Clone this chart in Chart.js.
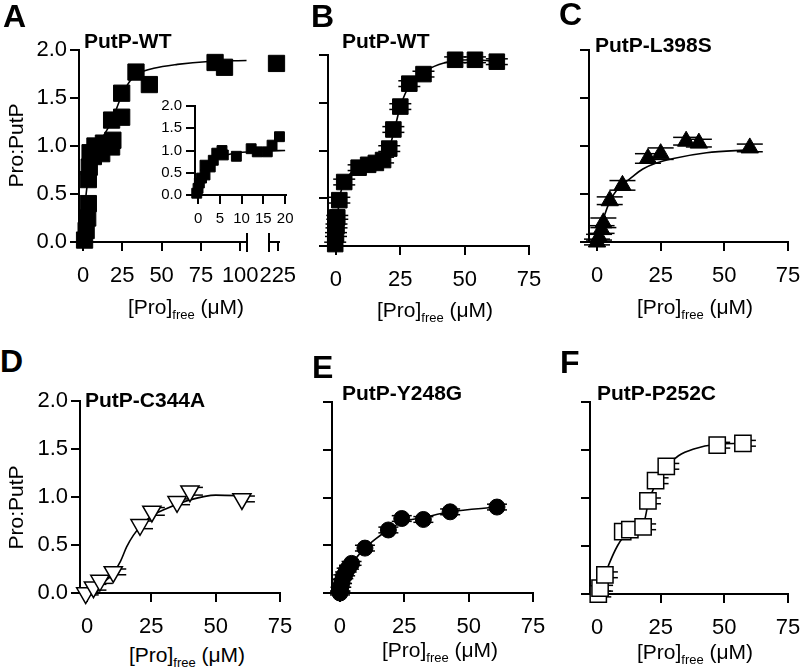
<!DOCTYPE html>
<html>
<head>
<meta charset="utf-8">
<script src="https://cdn.jsdelivr.net/npm/chart.js@4.4.0/dist/chart.umd.min.js"></script>
<style>
  body { margin: 0; background: #fff; }
  #fig { position: relative; width: 800px; height: 669px; overflow: hidden; background: #fff;
         font-family: "Liberation Sans", Arial, Helvetica, sans-serif; color: #000; }
  #fig canvas { position: absolute; }
  .lbl { position: absolute; line-height: 1; white-space: nowrap; z-index: 2; }
  .letter { font-weight: bold; font-size: 32px; }
  .ttl { font-weight: bold; font-size: 21px; }
  .xt { font-size: 21px; width: 200px; text-align: center; }
  .xt span { position: relative; top: 5px; font-size: 13px; }
  .yt { font-size: 21px; width: 120px; text-align: center; transform: rotate(-90deg); }
</style>
</head>
<body>
<div id="fig">
  <div class="lbl letter" style="left:3px;top:0px">A</div>
  <div class="lbl letter" style="left:311px;top:0px">B</div>
  <div class="lbl letter" style="left:559px;top:-2px">C</div>
  <div class="lbl letter" style="left:0px;top:345px">D</div>
  <div class="lbl letter" style="left:312px;top:351px">E</div>
  <div class="lbl letter" style="left:560px;top:346px">F</div>

  <div class="lbl ttl" style="left:84px;top:30px">PutP-WT</div>
  <div class="lbl ttl" style="left:342px;top:30px">PutP-WT</div>
  <div class="lbl ttl" style="left:595px;top:34px">PutP-L398S</div>
  <div class="lbl ttl" style="left:85px;top:389px">PutP-C344A</div>
  <div class="lbl ttl" style="left:342px;top:382px">PutP-Y248G</div>
  <div class="lbl ttl" style="left:597px;top:382px">PutP-P252C</div>

  <div class="lbl xt" style="left:86px;top:296px">[Pro]<span>free</span> (&mu;M)</div>
  <div class="lbl xt" style="left:335px;top:299px">[Pro]<span>free</span> (&mu;M)</div>
  <div class="lbl xt" style="left:595px;top:296px">[Pro]<span>free</span> (&mu;M)</div>
  <div class="lbl xt" style="left:87px;top:644px">[Pro]<span>free</span> (&mu;M)</div>
  <div class="lbl xt" style="left:340px;top:639px">[Pro]<span>free</span> (&mu;M)</div>
  <div class="lbl xt" style="left:595px;top:641px">[Pro]<span>free</span> (&mu;M)</div>

  <div class="lbl yt" style="left:-45px;top:135px">Pro:PutP</div>
  <div class="lbl yt" style="left:-45px;top:497px">Pro:PutP</div>
</div>

<script>
// 刻度
const xTicks = [0, 25, 50, 75];
const xTicksA = [0, 25, 50, 75, 100];
const xTicksA2 = [225];
const xTicksInset = [0, 5, 10, 15, 20];
const yTicks = [0, 0.5, 1, 1.5, 2];

// A: PutP-WT (主图 + 断轴后的 225 点)
const aX = [1, 2, 3, 3.4, 3.4, 4, 4.5, 6.6, 7.6, 11.9, 13, 18.2, 19, 18.2, 24.6, 24.6, 33.7, 42.2, 84, 90];
const aY = [0.02, 0.12, 0.25, 0.4, 0.65, 0.78, 0.93, 0.89, 1.0, 0.92, 1.03, 0.99, 1.06, 1.27, 1.3, 1.55, 1.77, 1.64, 1.87, 1.82];
const aFitX = [0, 1, 2, 4, 7, 12, 18, 24, 30, 36, 45, 60, 80, 104];
const aFitY = [0, 0.3, 0.5, 0.75, 0.95, 1.08, 1.25, 1.5, 1.68, 1.76, 1.81, 1.85, 1.88, 1.89];
const a2X = [224];
const a2Y = [1.86];

// A 插图
const insX = [-0.3, 0, 0.3, 0.8, 1.6, 1.6, 2.8, 3.5, 4.3, 5.5, 5.8, 8.8, 12.2, 13.6, 15.9, 17, 18.7];
const insY = [0.04, 0.15, 0.27, 0.38, 0.45, 0.67, 0.63, 0.78, 0.94, 1.0, 0.9, 0.87, 1.04, 0.97, 0.97, 1.12, 1.31];
const insFitX = [0, 1, 2, 3, 5, 8, 12, 16, 20];
const insFitY = [0, 0.32, 0.55, 0.7, 0.85, 0.93, 0.97, 0.99, 1.0];

// B: PutP-WT
const bX = [-0.3, 0, 0.2, 0.5, 1.3, 3.2, 8.8, 12.5, 15.5, 18.3, 20.7, 22.3, 25, 28.5, 34, 46.3, 54, 62.5];
const bY = [0.02, 0.12, 0.21, 0.3, 0.48, 0.67, 0.82, 0.85, 0.87, 0.9, 1.02, 1.22, 1.46, 1.7, 1.8, 1.95, 1.95, 1.93];
const bErr = [0.02, 0.02, 0.02, 0.02, 0.03, 0.03, 0.03, 0.03, 0.03, 0.03, 0.03, 0.03, 0.03, 0.03, 0.03, 0.03, 0.03, 0.03];
const bFitX = [0, 1, 3, 6, 10, 15, 19, 21, 23, 25, 28.5, 34, 40, 46, 54, 63];
const bFitY = [0, 0.42, 0.65, 0.77, 0.83, 0.87, 0.92, 1.05, 1.25, 1.46, 1.68, 1.82, 1.9, 1.94, 1.95, 1.93];

// C: PutP-L398S
const cX = [0, 0.8, 1.8, 2.5, 5, 10, 20, 25, 35, 40, 60];
const cY = [0.0, 0.05, 0.13, 0.2, 0.43, 0.59, 0.87, 0.92, 1.05, 1.03, 0.98];
const cErr = [0.03, 0.03, 0.04, 0.05, 0.04, 0.05, 0.05, 0.06, 0.04, 0.04, 0.04];
const cFitX = [0, 2.5, 5, 8, 13, 18, 23, 30, 43, 60];
const cFitY = [0, 0.24, 0.42, 0.55, 0.66, 0.76, 0.82, 0.87, 0.93, 0.96];

// D: PutP-C344A
const dX = [-0.5, 2.5, 5, 10.2, 20.6, 25.2, 35, 40, 60.2];
const dY = [0.0, 0.06, 0.13, 0.22, 0.71, 0.85, 0.95, 1.06, 0.98];
const dErr = [0.02, 0.03, 0.03, 0.03, 0.04, 0.04, 0.03, 0.04, 0.03];
const dFitX = [0, 3, 6, 10, 13, 15.4, 18, 21, 25, 31, 40, 50, 63];
const dFitY = [0, 0.04, 0.1, 0.2, 0.33, 0.48, 0.6, 0.7, 0.8, 0.88, 0.97, 1.02, 1.01];

// E: PutP-Y248G
const eX = [0, 0.2, 0.5, 0.8, 1.3, 2, 2.6, 3.5, 4.5, 9.7, 18.8, 24, 32.4, 42.8, 61];
const eY = [0.0, 0.04, 0.08, 0.12, 0.17, 0.2, 0.24, 0.27, 0.31, 0.47, 0.66, 0.78, 0.77, 0.85, 0.9];
const eErr = [0.02, 0.02, 0.02, 0.02, 0.02, 0.02, 0.02, 0.02, 0.02, 0.03, 0.03, 0.03, 0.03, 0.03, 0.03];
const eFitX = [0, 2, 5, 9.7, 14, 18.8, 24, 32.4, 42.8, 61];
const eFitY = [0, 0.18, 0.32, 0.47, 0.57, 0.66, 0.74, 0.79, 0.85, 0.9];

// F: PutP-P252C
const fX = [0.5, 1.2, 3.1, 10.1, 12.9, 18.1, 20, 23, 27.2, 47.2, 57.3];
const fY = [0.0, 0.06, 0.2, 0.65, 0.67, 0.7, 0.97, 1.18, 1.33, 1.55, 1.57];
const fErr = [0.03, 0.03, 0.03, 0.03, 0.03, 0.03, 0.03, 0.03, 0.03, 0.03, 0.03];
const fFitX = [0, 2, 5, 8, 10, 13, 16, 18.5, 20, 23, 27, 32, 38, 47, 57];
const fFitY = [0, 0.12, 0.33, 0.5, 0.58, 0.65, 0.69, 0.75, 0.93, 1.15, 1.32, 1.44, 1.51, 1.56, 1.57];

Chart.defaults.font.family = '"Liberation Sans", Arial, Helvetica, sans-serif';
Chart.defaults.color = '#000';

function pts(xs, ys) {
    return xs.map((x, i) => ({ x: x, y: ys[i] }));
}

// 误差棒的横帽（竖线被点遮住，只画帽）
const errorCaps = {
    id: 'errorCaps',
    beforeDatasetsDraw(chart) {
        const ctx = chart.ctx;
        chart.data.datasets.forEach((ds, i) => {
            if (!ds.errs) return;
            const meta = chart.getDatasetMeta(i);
            const ys = chart.scales[meta.yAxisID];
            ctx.save();
            ctx.strokeStyle = '#000';
            ctx.lineWidth = 1.5;
            meta.data.forEach((el, j) => {
                const v = ds.data[j].y;
                [v + ds.errs[j], v - ds.errs[j]].forEach(yv => {
                    const py = ys.getPixelForValue(yv);
                    ctx.beginPath();
                    ctx.moveTo(el.x + ds.capL, py);
                    ctx.lineTo(el.x + ds.capR, py);
                    ctx.stroke();
                });
            });
            ctx.restore();
        });
    }
};
Chart.register(errorCaps);

// 断轴：竖线；断轴后的短轴线画到 axisEnd 为止
function breakMark(side, axisEnd) {
    return {
        id: 'breakMark',
        afterDraw(chart) {
            const { ctx, chartArea } = chart;
            const x = side === 'right' ? chartArea.right : chartArea.left;
            ctx.save();
            ctx.strokeStyle = '#000';
            ctx.lineWidth = 2;
            ctx.beginPath();
            ctx.moveTo(x, chartArea.bottom - 9);
            ctx.lineTo(x, chartArea.bottom + 10);
            if (axisEnd !== undefined) {
                ctx.moveTo(chartArea.left, chartArea.bottom);
                ctx.lineTo(chart.scales.x.getPixelForValue(axisEnd) + 1, chartArea.bottom);
            }
            ctx.stroke();
            ctx.restore();
        }
    };
}

function markers(xs, ys, style, extra) {
    return Object.assign({
        data: pts(xs, ys),
        pointStyle: style.shape,
        pointRadius: style.r,
        pointRotation: style.rot || 0,
        pointBackgroundColor: style.fill || '#000',
        pointBorderColor: '#000',
        pointBorderWidth: style.bw || 1,
        showLine: false,
        clip: false
    }, extra || {});
}

function fitLine(xs, ys) {
    return {
        data: pts(xs, ys),
        showLine: true,
        pointRadius: 0,
        borderColor: '#000',
        borderWidth: 1.6,
        cubicInterpolationMode: 'monotone',
        clip: false
    };
}

const fig = document.getElementById('fig');

// 一个面板 = 一个 canvas；坐标轴位置由 box 固定
function panel(p) {
    const padL = 75, padT = 22, padR = 30, padB = 50;
    const w = p.box.r - p.box.l + padL + padR;
    const h = p.box.b - p.box.t + padT + padB;
    const cv = document.createElement('canvas');
    cv.width = w;
    cv.height = h;
    cv.style.left = (p.box.l - padL) + 'px';
    cv.style.top = (p.box.t - padT) + 'px';
    fig.appendChild(cv);

    const fs = p.fs || 22;
    const grid = { drawOnChartArea: false, drawTicks: true, tickLength: p.tl || 9, color: '#000', lineWidth: 2 };
    const border = { display: true, color: '#000', width: 2 };

    return new Chart(cv, {
        type: 'scatter',
        data: { datasets: p.datasets },
        options: {
            responsive: false,
            animation: false,
            devicePixelRatio: 1,
            layout: {
                autoPadding: false,
                padding: { left: 0, top: padT, right: padR, bottom: 0 }
            },
            plugins: {
                legend: { display: false },
                tooltip: { enabled: false }
            },
            scales: {
                x: {
                    type: 'linear',
                    min: p.xMin,
                    max: p.xMax,
                    afterBuildTicks: s => { s.ticks = p.xTicks.map(v => ({ value: v })); },
                    afterFit: s => { s.height = padB; },
                    grid: grid,
                    border: p.axisEnd !== undefined ? { display: false } : border,
                    ticks: { font: { size: fs }, color: '#000', padding: p.xPad || 12, maxRotation: 0, autoSkip: false }
                },
                y: {
                    type: 'linear',
                    min: 0,
                    max: 2,
                    afterBuildTicks: s => { s.ticks = yTicks.map(v => ({ value: v })); },
                    afterFit: s => { s.width = padL; },
                    // 断轴后的一段不画 y 轴，但仍占同样的宽度
                    grid: p.hideY ? { display: false } : grid,
                    border: p.hideY ? { display: false } : border,
                    ticks: {
                        display: !!p.yLabels,
                        font: { size: fs },
                        color: '#000',
                        padding: p.yPad || 3,
                        callback: v => v.toFixed(1)
                    }
                }
            }
        },
        plugins: p.brk ? [breakMark(p.brk, p.axisEnd)] : []
    });
}

// A 主图
panel({
    box: { l: 79, t: 50, b: 242, r: 247 },
    xMin: -2.54, xMax: 104.3, xTicks: xTicksA, yLabels: true, brk: 'right',
    datasets: [
        markers(aX, aY, { shape: 'rect', r: 11.5 }),
        fitLine(aFitX, aFitY)
    ]
});
// A 断轴后的一段（画布放宽，轴线只画到 226）
panel({
    box: { l: 269, t: 50, b: 242, r: 329 },
    xMin: 218, xMax: 266, xTicks: xTicksA2, hideY: true, brk: 'left', axisEnd: 226,
    datasets: [markers(a2X, a2Y, { shape: 'rect', r: 11.5 })]
});
// A 插图
panel({
    box: { l: 195, t: 106, b: 195, r: 286 },
    xMin: -0.7, xMax: 20.2, xTicks: xTicksInset, yLabels: true, fs: 15, tl: 9, yPad: 4, xPad: 6,
    datasets: [
        markers(insX, insY, { shape: 'rect', r: 7 }),
        fitLine(insFitX, insFitY)
    ]
});
// B
panel({
    box: { l: 328, t: 55, b: 246, r: 529 },
    xMin: -3.1, xMax: 75, xTicks: xTicks,
    datasets: [
        markers(bX, bY, { shape: 'rect', r: 11 }, { errs: bErr, capL: -11, capR: 11 }),
        fitLine(bFitX, bFitY)
    ]
});
// C
panel({
    box: { l: 589, t: 50, b: 242, r: 788 },
    xMin: -3.14, xMax: 75, xTicks: xTicks,
    datasets: [
        markers(cX, cY, { shape: 'triangle', r: 10 }, { errs: cErr, capL: -13, capR: 13 }),
        fitLine(cFitX, cFitY)
    ]
});
// D
panel({
    box: { l: 80, t: 401, b: 593, r: 280 },
    xMin: -2.72, xMax: 75, xTicks: xTicks, yLabels: true,
    datasets: [
        markers(dX, dY, { shape: 'triangle', r: 10.5, rot: 180, fill: '#fff', bw: 1.5 }, { errs: dErr, capL: -3, capR: 13 }),
        fitLine(dFitX, dFitY)
    ]
});
// E
panel({
    box: { l: 332, t: 402, b: 593, r: 533 },
    xMin: -3.1, xMax: 75, xTicks: xTicks,
    datasets: [
        markers(eX, eY, { shape: 'circle', r: 8 }, { errs: eErr, capL: -10, capR: 10 }),
        fitLine(eFitX, eFitY)
    ]
});
// F
panel({
    box: { l: 590, t: 402, b: 594, r: 788 },
    xMin: -2.75, xMax: 75, xTicks: xTicks,
    datasets: [
        markers(fX, fY, { shape: 'rect', r: 11.5, fill: '#fff', bw: 1.5 }, { errs: fErr, capL: 0, capR: 13 }),
        fitLine(fFitX, fFitY)
    ]
});
</script>
</body>
</html>
